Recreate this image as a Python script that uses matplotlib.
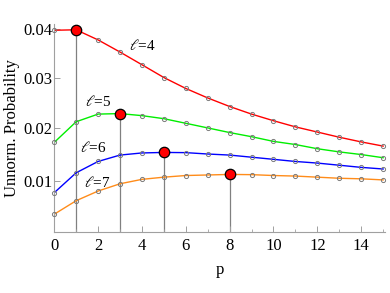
import matplotlib
matplotlib.use("Agg")
import matplotlib.pyplot as plt
import numpy as np

# ── Data ────────────────────────────────────────────────────
p_values = list(range(16))
prob_l4 = [0.0397, 0.0398, 0.0377, 0.0352, 0.0326, 0.0300, 0.0278, 0.0259,
           0.0242, 0.0227, 0.0214, 0.0202, 0.0192, 0.0182, 0.0173, 0.0165]
prob_l5 = [0.0172, 0.0212, 0.0227, 0.0228, 0.0224, 0.0218, 0.0209, 0.0200,
           0.0191, 0.0183, 0.0174, 0.0168, 0.0160, 0.0154, 0.0149, 0.0143]
prob_l6 = [0.0079, 0.0115, 0.0136, 0.0148, 0.0152, 0.0153, 0.01526, 0.0150,
           0.0148, 0.0144, 0.0140, 0.0136, 0.0133, 0.0129, 0.0125, 0.0122]
prob_l7 = [0.0042, 0.0065, 0.0082, 0.0095, 0.0103, 0.0107, 0.0110, 0.0111,
           0.0112, 0.01116, 0.0110, 0.0109, 0.0107, 0.0105, 0.0104, 0.0102]
curve_names = ["4", "5", "6", "7"]
peak_p = [1, 3, 5, 8]
label_x = [4.0, 2.0, 1.8, 1.95]
label_y = [0.0365, 0.0251, 0.0162, 0.0097]

x_ticks = [0, 2, 4, 6, 8, 10, 12, 14]
y_ticks = [0.01, 0.02, 0.03, 0.04]
y_tick_labels = ["0.01", "0.02", "0.03", "0.04"]

colors = ["#ff0000", "#00ee00", "#0000ff", "#ff8c1a"]
series = [prob_l4, prob_l5, prob_l6, prob_l7]

plt.rcParams["font.family"] = ["Liberation Serif", "DejaVu Serif"]
plt.rcParams["mathtext.fontset"] = "stix"

# ── Figure ──────────────────────────────────────────────────
fig = plt.figure(figsize=(3.9, 2.93), dpi=100)
ax = fig.add_axes([0.139, 0.207, 0.849, 0.711])

# slightly compressed y axis, as in the original
ax.set_yscale("function",
              functions=(lambda y: np.sign(y) * np.abs(y) ** 0.9,
                         lambda u: np.sign(u) * np.abs(u) ** (1 / 0.9)))
y_bottom = 0.00133
ax.set_ylim(y_bottom, 0.041)
ax.set_xlim(0, 15.1)

# vertical drop lines from each maximum
for vals, pk in zip(series, peak_p):
    ax.vlines(pk, y_bottom, vals[pk], color="#808080", linewidth=0.9,
              zorder=1)

# curves with small open markers
for vals, col in zip(series, colors):
    ax.plot(p_values, vals, color=col, linewidth=1.0, zorder=2)
    ax.plot(p_values, vals, linestyle="none", marker="o", markersize=3.0,
            markerfacecolor="none", markeredgecolor="#7a7a7a",
            markeredgewidth=0.7, zorder=3, clip_on=False)

# big red dots at maxima
for vals, pk in zip(series, peak_p):
    ax.plot(pk, vals[pk], marker="o", markersize=7.5, markerfacecolor="#ff0000",
            markeredgecolor="black", markeredgewidth=0.9, zorder=4)

# curve labels
for name, lx, ly in zip(curve_names, label_x, label_y):
    ax.text(lx, ly, r"$\ell$=" + name, fontsize=11, ha="center",
            va="center")

# ── Axes styling ────────────────────────────────────────────
for side in ["top", "right"]:
    ax.spines[side].set_visible(False)
for side in ["left", "bottom"]:
    ax.spines[side].set_color("#a0a0a0")
    ax.spines[side].set_linewidth(0.8)

ax.set_xticks(x_ticks)
ax.set_xticks([1, 3, 5, 7, 9, 11, 13, 15], minor=True)
ax.set_yticks(y_ticks)
ax.set_yticklabels(y_tick_labels)
ax.yaxis.set_minor_locator(matplotlib.ticker.NullLocator())
ax.tick_params(axis="x", which="major", direction="in", length=4,
               width=0.7, color="#a0a0a0", labelsize=12, pad=4)
ax.tick_params(axis="y", which="major", direction="in", length=4,
               width=0.7, color="#a0a0a0", labelsize=12, pad=1.5)
ax.tick_params(axis="x", which="minor", direction="in", length=2.5,
               width=0.6, color="#a0a0a0")

ax.set_xlabel("p", fontsize=12, labelpad=6)
ax.set_ylabel("Unnorm. Probability", fontsize=12, labelpad=2)

plt.savefig("out.png", dpi=100)
plt.close()
